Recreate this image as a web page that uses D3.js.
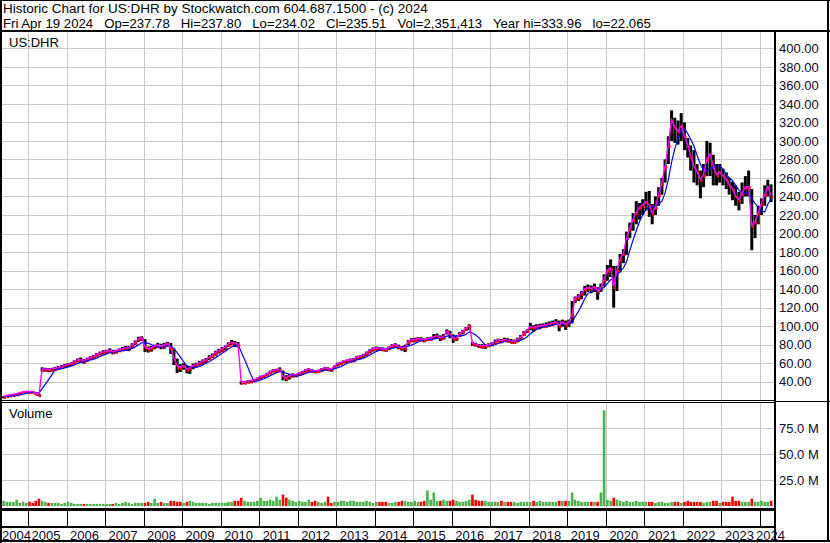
<!DOCTYPE html>
<html>
<head>
<meta charset="utf-8">
<script src="https://cdn.jsdelivr.net/npm/d3@7"></script>
<style>
body { margin: 0; background: #fff; }
svg text { font-family: Arial, "Liberation Sans", sans-serif; font-size: 13px; }
</style>
</head>
<body>
<div id="c"></div>
<script>
"use strict";

// first bar is May 2004, one bar per month
const startYear = 2004, startMonth = 4

const closes = [
    23.5, 24.5, 25.3, 25.8, 26.5, 27.4, 28.5, 29.0,
    28.8, 28.6, 27.0, 25.5, 53, 53, 52.5, 53, 54, 55, 56, 57,
    58, 59, 61, 63, 63, 62, 64, 65.5, 67, 69, 70.5, 71.5,
    72.5, 73.5, 72, 72.5, 74, 75, 76, 76, 79, 82, 86, 87,
    77, 75, 76, 78, 79, 78, 79, 81, 76, 65, 56, 55,
    57, 53, 54, 57, 58, 60, 62, 63, 66, 68, 71, 73,
    75, 77, 80, 82, 81, 80, 39, 39, 40, 40.5, 41.5, 43,
    45, 46, 48, 50, 52, 52, 53, 45, 43.5, 46, 47, 47,
    48.5, 50, 52, 53, 51.5, 51, 51.5, 53, 54.5, 53.5, 53, 56,
    59, 60, 62, 62.5, 63, 63.5, 66, 66.5, 68, 71, 73, 75,
    76, 75.5, 75, 74.5, 76.5, 78.5, 79.5, 77.5, 76, 76, 83, 85,
    85, 86, 85.5, 85, 86, 86.5, 88, 89, 87, 88, 94, 91,
    86, 87, 91, 94, 97, 100, 81, 80, 78.5, 78, 78.5, 79.5,
    80.5, 83, 84.5, 84, 85, 84.5, 83, 83, 85, 88, 92, 95,
    99, 98, 99, 100, 100, 101, 102, 103, 104, 100, 104, 101,
    104, 112, 130, 131, 135, 140, 141, 140, 142, 137, 141, 150,
    160, 162, 142, 160, 172, 178, 195, 205, 215, 222, 228, 230,
    234, 230, 222, 228, 242, 254, 272, 295, 322, 314, 310, 316,
    305, 295, 283, 272, 266, 258, 263, 280, 285, 272, 263, 266,
    262, 258, 252, 248, 240, 236, 243, 250, 250, 208, 212, 222,
    232, 242, 250, 240
]

const highs = [
    24.5, 25.3, 26.0, 26.6, 27.3, 28.2, 29.3, 29.8,
    29.6, 29.5, 28.8, 27.4, 55.5, 55, 54.5, 55, 56, 57, 58, 59,
    60, 61, 63, 65, 66, 64.5, 66, 67.5, 69, 71, 72.5, 74,
    74.5, 76, 74.5, 74.5, 76, 77.5, 78.5, 78.5, 81.5, 84.5, 88.5, 89,
    86, 78, 78.5, 80, 82, 81, 82, 83, 82, 75, 65, 59,
    60, 58, 57, 59.5, 60.5, 62.5, 64, 65.5, 68.5, 70.5, 73.5, 75.5,
    77.5, 79, 82.5, 85, 84, 83, 40.5, 40.5, 41.5, 42, 43, 44.5,
    46.5, 47.5, 49.5, 52, 53.5, 54, 55.5, 52, 47, 48.5, 49, 48.5,
    50, 51.5, 53.5, 54.5, 53.5, 52.5, 53, 54.5, 56, 55.5, 54.5, 57.5,
    60.5, 61.5, 63.5, 64, 65, 65.5, 68, 68.5, 70, 72.5, 75, 77,
    78, 77.5, 77, 76.5, 78, 80.5, 81.5, 80, 78.5, 80, 85, 87,
    87.5, 88, 88, 87, 88, 88.5, 91.5, 92, 90, 91.5, 96.5, 95,
    91, 90, 93.5, 96, 99, 102, 83, 82, 80.5, 80.5, 80.5, 81.5,
    82.5, 85.5, 86.5, 86, 87.5, 87, 86, 85.5, 87.5, 90.5, 94.5, 96.5,
    103.5, 101, 102, 102.5, 103, 104, 105, 106, 107.5, 106, 107, 106,
    107, 127, 132, 134.5, 138, 143.5, 145, 144, 146, 142, 146, 156,
    166, 172, 165, 165, 178, 183, 202, 212, 222, 235, 233, 237,
    245, 246, 232, 240, 250, 260, 280, 305, 333, 325, 322, 330,
    320, 303, 295, 290, 275, 268, 275, 300, 298, 285, 275, 275,
    270, 266, 260, 256, 252, 245, 255, 262, 268, 248, 220, 230,
    238, 252, 258, 253
]

const lows = [
    22.1, 23.4, 24.4, 25.0, 25.6, 26.4, 27.5, 28.1,
    28.0, 27.8, 26.2, 24.5, 50.5, 51, 50.5, 51, 52, 53, 54, 55,
    56, 57, 59, 61, 60.5, 59.5, 61.5, 63.5, 65, 67, 68.5, 69.5,
    70.5, 71, 69.5, 70.5, 72, 73, 73.5, 73, 76.5, 79.5, 83, 84,
    72, 71.5, 72.5, 75, 76.5, 75, 75.5, 78, 70, 58, 49.5, 50.5,
    53, 49, 48.5, 53.5, 55.5, 57.5, 59, 60.5, 63.5, 65.5, 68, 70.5,
    72, 74, 77.5, 79.5, 77.5, 77, 37, 37.5, 38.5, 39, 40, 41.5,
    43, 44.5, 46, 48, 50, 50, 50.5, 41.5, 40.5, 42.5, 44.5, 45,
    46.5, 48.5, 50, 51, 49.5, 49.5, 50, 51, 52.5, 51.5, 51, 53.5,
    56.5, 58, 60, 60.5, 61, 61, 63.5, 64.5, 66, 68, 70.5, 72.5,
    73.5, 73.5, 73, 72.5, 74.5, 76.5, 77, 75, 73.5, 72, 79.5, 82.5,
    82.5, 84, 83.5, 82.5, 84, 84.5, 86, 86, 84, 85.5, 91, 87,
    82, 84, 88.5, 91, 95, 96, 78.5, 78, 76.5, 76, 75.5, 77.5,
    78.5, 80.5, 82.5, 81.5, 83, 82.5, 81.5, 81, 82.5, 85.5, 89.5, 92.5,
    95.5, 94, 96, 96.5, 98, 98.5, 99.5, 100.5, 101.5, 94.5, 99.5, 96,
    99, 103, 125, 127, 129, 133, 137, 135.5, 137, 128.5, 137, 143,
    149, 153, 120, 138, 158, 168, 177, 195, 203, 210, 215, 220,
    225, 218, 210, 220, 230, 242, 255, 275, 300, 298, 296, 300,
    290, 282, 268, 255, 252, 238, 250, 262, 262, 252, 252, 255,
    252, 248, 242, 236, 230, 225, 232, 240, 240, 182, 195, 210,
    220, 230, 240, 234
]

// volume in millions of shares
const volumes = [
    5, 4, 4, 4, 6, 3, 4, 3,
    4, 3, 5, 7, 5, 4, 3, 3, 3, 3, 2, 3,
    4, 3, 2, 2, 2, 2, 2, 2, 2, 2, 2, 2,
    2, 2, 2, 3, 2, 3, 4, 3, 2, 3, 3, 3,
    3, 4, 3, 7, 3, 4, 3, 3, 5, 5, 4, 4,
    3, 4, 5, 4, 3, 3, 3, 3, 2, 3, 3, 3,
    3, 3, 4, 4, 5, 5, 8, 5, 4, 4, 4, 5,
    8, 5, 5, 6, 5, 9, 6, 11, 8, 6, 5, 4,
    5, 4, 4, 6, 4, 5, 4, 3, 4, 9, 3, 4,
    4, 5, 5, 4, 5, 5, 4, 4, 4, 5, 4, 3,
    4, 4, 4, 4, 3, 3, 4, 4, 5, 5, 4, 4,
    5, 4, 4, 5, 15, 6, 13, 5, 5, 6, 5, 5,
    6, 5, 4, 4, 5, 6, 11, 6, 5, 5, 5, 4,
    4, 4, 4, 5, 4, 4, 4, 4, 3, 4, 4, 4,
    4, 5, 4, 5, 4, 4, 4, 4, 4, 5, 5, 5,
    5, 13, 6, 5, 4, 4, 4, 4, 4, 4, 13, 92,
    6, 5, 8, 6, 5, 4, 5, 4, 4, 5, 4, 4,
    4, 4, 4, 3, 4, 4, 3, 3, 4, 4, 4, 3,
    4, 5, 4, 4, 4, 4, 3, 4, 4, 5, 5, 3,
    4, 4, 4, 9, 5, 5, 4, 4, 4, 7, 4, 4,
    5, 4, 4, 5
]

const priceTicks = [40, 60, 80, 100, 120, 140, 160, 180, 200, 220, 240, 260, 280, 300, 320, 340, 360, 380, 400]
const volumeTicks = [25, 50, 75]
const years = [2004, 2005, 2006, 2007, 2008, 2009, 2010, 2011, 2012, 2013, 2014,
    2015, 2016, 2017, 2018, 2019, 2020, 2021, 2022, 2023, 2024]

const titleLine = "Historic Chart for US:DHR by Stockwatch.com 604.687.1500 - (c) 2024"
const quoteLine = "Fri Apr 19 2024   Op=237.78   Hi=237.80   Lo=234.02   Cl=235.51   Vol=2,351,413   Year hi=333.96   lo=22.065"

const W = 830, H = 543
const plotL = 2, plotR = 774
const priceTop = 32, priceBot = 400
const volTop = 403, volBot = 508
const gridColor = '#c8c8c8'
const labelColor = '#0a0a2a'

let svg = d3.select('#c').append('svg')
    .attr('width', W).attr('height', H)

let xScale = d3.scaleTime()
    .domain([new Date(2005, 0, 1), new Date(2024, 0, 1)])
    .range([28, 760])
let yScale = d3.scaleLinear().domain([40, 400]).range([381.7, 48.3])
let vScale = d3.scaleLinear().domain([0, 75]).range([506, 428])

let bars = closes.map((c, i) => ({
    date: new Date(startYear, startMonth + i, 15),
    close: c, high: highs[i], low: lows[i], vol: volumes[i],
    up: i == 0 || c >= closes[i - 1]
}))

function movingAvg(vals, n) {
    return vals.map((v, i) => d3.mean(vals.slice(Math.max(0, i - n + 1), i + 1)))
}
let slowAvg = movingAvg(closes, 5)

// grid
let grid = svg.append('g').attr('stroke', gridColor).attr('stroke-width', 1)
priceTicks.forEach(t => {
    let y = Math.round(yScale(t)) + 0.5
    grid.append('line').attr('x1', plotL).attr('x2', plotR).attr('y1', y).attr('y2', y)
})
volumeTicks.forEach(t => {
    let y = Math.round(vScale(t)) + 0.5
    grid.append('line').attr('x1', plotL).attr('x2', plotR).attr('y1', y).attr('y2', y)
})
years.slice(1).forEach(yr => {
    let x = Math.round(xScale(new Date(yr, 0, 1))) + 0.5
    grid.append('line').attr('x1', x).attr('x2', x).attr('y1', priceTop).attr('y2', priceBot)
    grid.append('line').attr('x1', x).attr('x2', x).attr('y1', volTop).attr('y2', volBot)
})

// price bars
let pg = svg.append('g')
pg.selectAll('rect.bar').data(bars).enter().append('rect')
    .attr('x', d => xScale(d.date) - 1.5)
    .attr('width', 3.0)
    .attr('y', d => yScale(d.high))
    .attr('height', d => Math.max(1, yScale(d.low) - yScale(d.high)))
    .attr('fill', '#000')
pg.selectAll('rect.tick').data(bars).enter().append('rect')
    .attr('x', d => xScale(d.date) - 0.2)
    .attr('width', 2.4)
    .attr('y', d => yScale(d.close) - 0.5)
    .attr('height', 2.6)
    .attr('fill', '#ff0000')

pg.append('path')
    .datum(bars)
    .attr('fill', 'none')
    .attr('stroke', '#0000ff')
    .attr('stroke-width', 1.2)
    .attr('d', d3.line().x(d => xScale(d.date)).y((d, i) => yScale(slowAvg[i])))
pg.append('path')
    .datum(bars)
    .attr('fill', 'none')
    .attr('stroke', '#ff00ff')
    .attr('stroke-width', 1.4)
    .attr('d', d3.line().x(d => xScale(d.date)).y(d => yScale(d.close) - 0.6))

// volume bars
svg.append('g').selectAll('rect').data(bars).enter().append('rect')
    .attr('x', d => xScale(d.date) - 1.3)
    .attr('width', 2.6)
    .attr('y', d => vScale(d.vol))
    .attr('height', d => vScale(0) - vScale(d.vol))
    .attr('fill', d => d.up ? '#4cb04c' : '#ff0000')

// frame
let frame = svg.append('g').attr('stroke', '#000')
function hline(x1, x2, y, w) {
    frame.append('line').attr('x1', x1).attr('x2', x2).attr('y1', y).attr('y2', y).attr('stroke-width', w)
}
function vline(x, y1, y2, w) {
    frame.append('line').attr('x1', x).attr('x2', x).attr('y1', y1).attr('y2', y2).attr('stroke-width', w)
}
hline(0, W, 0.5, 1)
hline(0, W, 31, 2)
hline(plotL, plotR, 400.5, 1)
hline(plotL, plotR, 402.5, 1)
hline(plotR, W, 401.5, 1)
hline(0, plotR + 1, 509.5, 3)
hline(0, plotR + 1, 527, 2)
hline(0, W, 541, 2)
vline(1, 0, H, 2)
vline(plotR + 1, 31, 542, 2)
vline(828, 0, 542, 2)
years.slice(1).forEach(yr => {
    let x = Math.round(xScale(new Date(yr, 0, 1))) + 0.5
    vline(x, 511, 526, 1)
})

// header texts
svg.append('text').attr('x', 3).attr('y', 12.8)
    .style('font-size', '13.5px')
    .text(titleLine)
svg.append('text').attr('x', 3).attr('y', 28.2)
    .attr('xml:space', 'preserve')
    .style('font-size', '13.2px').style('white-space', 'pre')
    .text(quoteLine)
svg.append('text').attr('x', 9).attr('y', 46.5).text('US:DHR')
svg.append('text').attr('x', 9).attr('y', 418).text('Volume')

svg.append('g').selectAll('text').data(priceTicks).enter().append('text')
    .attr('x', 779)
    .attr('y', d => yScale(d) + 4.7)
    .attr('fill', labelColor)
    .text(d => d.toFixed(2))
svg.append('g').selectAll('text').data(volumeTicks).enter().append('text')
    .attr('x', 779)
    .attr('y', d => vScale(d) + 4.7)
    .attr('fill', labelColor)
    .text(d => d.toFixed(1) + ' M')

let yl = svg.append('g')
years.forEach(yr => {
    let t = yl.append('text').attr('y', 539.5).attr('fill', labelColor).text(yr)
    let x = Math.max(2, xScale(new Date(yr, 0, 1)) + 3.5)
    let w = t.node().getComputedTextLength()
    x = Math.min(x, 785 - w)
    t.attr('x', x)
})
</script>
</body>
</html>
